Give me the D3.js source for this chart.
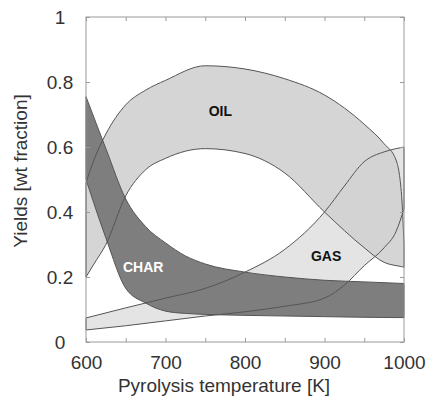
<!DOCTYPE html>
<html>
<head>
<meta charset="utf-8">
<script src="https://cdn.jsdelivr.net/npm/d3@7"></script>
<style>
    body { margin: 0; background: #fff; }
    svg { display: block; font-family: "Liberation Sans", Arial, sans-serif; }
    .axis path { display: none; }
    .axis line { stroke: #9a9a9a; }
    .axis text { fill: #333; font-size: 19px; }
    .band-line { fill: none; stroke: #555; stroke-width: 1; }
</style>
</head>
<body>
<div id="chart"></div>
<script>

// OIL yield band (upper / lower limit)
let oilTemp = [600, 610, 625, 650, 675, 700, 750, 800, 850, 900, 950, 975, 990, 997, 1000];
let oilMax  = [0.49, 0.56, 0.64, 0.73, 0.775, 0.805, 0.85, 0.84, 0.81, 0.76, 0.67, 0.61, 0.56, 0.45, 0.30];
let oilMin  = [0.20, 0.24, 0.30, 0.45, 0.53, 0.565, 0.595, 0.58, 0.52, 0.40, 0.29, 0.245, 0.235, 0.232, 0.23];

// GAS yield band
let gasTemp = [600, 650, 700, 750, 800, 850, 900, 925, 950, 975, 990, 1000];
let gasMax  = [0.074, 0.105, 0.135, 0.165, 0.215, 0.285, 0.40, 0.48, 0.555, 0.585, 0.595, 0.60];
let gasMin  = [0.037, 0.05, 0.065, 0.08, 0.093, 0.11, 0.135, 0.175, 0.235, 0.29, 0.34, 0.41];

// CHAR yield band
let charTemp = [600, 625, 650, 675, 700, 725, 750, 800, 850, 900, 950, 1000];
let charMax  = [0.755, 0.595, 0.44, 0.355, 0.305, 0.265, 0.24, 0.215, 0.20, 0.19, 0.185, 0.18];
let charMin  = [0.50, 0.32, 0.165, 0.12, 0.095, 0.088, 0.085, 0.082, 0.08, 0.078, 0.076, 0.075];

let xTicks = [600, 700, 800, 900, 1000];
let xMinorTicks = [600, 650, 700, 750, 800, 850, 900, 950, 1000];
let yTicks = [0, 0.2, 0.4, 0.6, 0.8, 1];
let yTickLabels = ["0", "0.2", "0.4", "0.6", "0.8", "1"];

let bandLabels = [
    { name: "OIL", t: 769, v: 0.71, color: "#111" },
    { name: "CHAR", t: 672, v: 0.23, color: "#fff" },
    { name: "GAS", t: 902, v: 0.265, color: "#111" }
];

let svgWidth = 429, svgHeight = 398;
let margin = { top: 17, right: 25, bottom: 56, left: 86 };
let width = svgWidth - margin.left - margin.right,
    height = svgHeight - margin.top - margin.bottom;

let svg = d3.select("#chart").append("svg")
    .attr("width", svgWidth)
    .attr("height", svgHeight)
    .append("g")
    .attr("transform", "translate(" + margin.left + "," + margin.top + ")");

let x = d3.scaleLinear().domain([600, 1000]).range([0, width]);
let y = d3.scaleLinear().domain([0, 1]).range([height, 0]);

// build band rows from the arrays
function rows(temp, hi, lo) {
    return temp.map((t, i) => ({ t: t, hi: hi[i], lo: lo[i] }));
}
let bands = [
    { name: "OIL", data: rows(oilTemp, oilMax, oilMin), fill: "#d5d5d5", opacity: 1 },
    { name: "GAS", data: rows(gasTemp, gasMax, gasMin), fill: "#d2d2d2", opacity: 0.6 },
    { name: "CHAR", data: rows(charTemp, charMax, charMin), fill: "#7e7e7e", opacity: 1 }
];

let area = d3.area()
    .x(d => x(d.t))
    .y0(d => y(d.lo))
    .y1(d => y(d.hi))
    .curve(d3.curveMonotoneX);

// fills first
svg.selectAll(".band")
    .data(bands)
    .enter()
    .append("path").attr("class", "band")
    .attr("d", d => area(d.data))
    .style("fill", d => d.fill)
    .style("fill-opacity", d => d.opacity);

// then outlines so all curves stay visible
svg.selectAll(".band-line")
    .data(bands)
    .enter()
    .append("path").attr("class", "band-line")
    .attr("d", d => area(d.data));

// frame
svg.append("rect")
    .attr("width", width)
    .attr("height", height)
    .style("fill", "none")
    .style("stroke", "#9a9a9a");

// axes (ticks pointing inward)
let xAxis = d3.axisBottom(x).tickValues(xMinorTicks).tickSize(-4)
    .tickFormat(d => xTicks.includes(d) ? d : "");
let gx = svg.append("g").attr("class", "x-axis axis")
    .attr("transform", "translate(0," + height + ")")
    .call(xAxis);
gx.selectAll("text").attr("y", 14).attr("dy", "0.71em");

svg.append("g").attr("class", "axis")
    .call(d3.axisTop(x).tickValues(xMinorTicks).tickSize(-4).tickFormat(""));

let yAxis = d3.axisLeft(y).tickValues(yTicks).tickSize(-4)
    .tickFormat((d, i) => yTickLabels[i]);
let gy = svg.append("g").attr("class", "y-axis axis").call(yAxis);
gy.selectAll("text").attr("x", -26).style("text-anchor", "middle");

svg.append("g").attr("class", "axis")
    .attr("transform", "translate(" + width + ",0)")
    .call(d3.axisRight(y).tickValues(yTicks).tickSize(-4).tickFormat(""));

// axis titles
svg.append("text")
    .attr("x", 224 - margin.left)
    .attr("y", 392 - margin.top)
    .style("text-anchor", "middle")
    .style("font-size", "19px")
    .style("fill", "#333")
    .text("Pyrolysis temperature [K]");

svg.append("text")
    .attr("transform", "translate(" + (27 - margin.left) + "," + (171 - margin.top) + ") rotate(-90)")
    .style("text-anchor", "middle")
    .style("font-size", "19px")
    .style("fill", "#333")
    .text("Yields [wt fraction]");

// band labels
svg.selectAll(".band-label")
    .data(bandLabels)
    .enter()
    .append("text").attr("class", "band-label")
    .attr("x", d => x(d.t))
    .attr("y", d => y(d.v))
    .attr("dy", "0.35em")
    .style("text-anchor", "middle")
    .style("font-size", "14px")
    .style("font-weight", "bold")
    .style("fill", d => d.color)
    .text(d => d.name);

</script>
</body>
</html>
